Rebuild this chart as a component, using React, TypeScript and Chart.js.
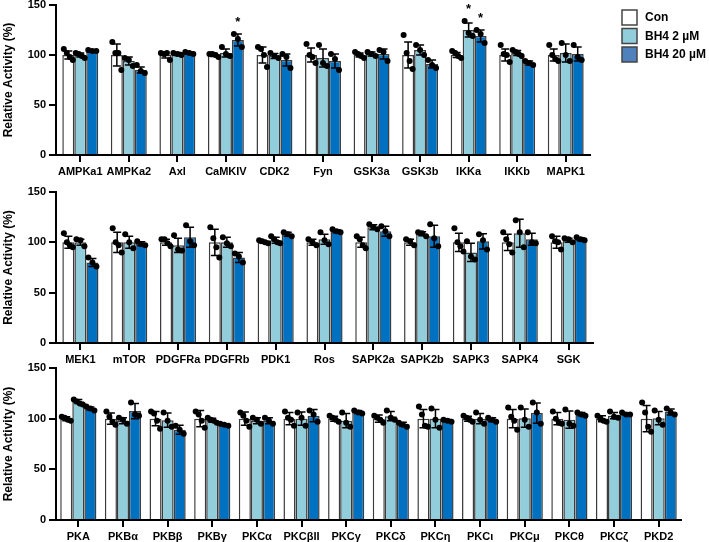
import React, { useEffect, useRef } from 'react';
import { Chart, registerables } from 'chart.js';

Chart.register(...registerables);

const FONT = "'Liberation Sans', Arial, Helvetica, sans-serif";

const seriesNames = ['Con', 'BH4 2 µM', 'BH4 20 µM'];
const barColors = ['#FFFFFF', '#92CDDC', '#0070C0'];
const legendColors = ['#FFFFFF', '#92CDDC', '#4F81BD'];
const yTicks = [0, 50, 100, 150];

// ---------- Panel 1 ----------
const cats1 = ['AMPKa1', 'AMPKa2', 'Axl', 'CaMKIV', 'CDK2', 'Fyn', 'GSK3a', 'GSK3b', 'IKKa', 'IKKb', 'MAPK1'];
const con1 = [100, 100, 100, 100, 100, 100, 100, 100, 100, 100, 100];
const low1 = [100, 94, 101, 102, 99, 97, 101, 105, 125, 102, 102];
const high1 = [104, 85, 102, 115, 95, 94, 101, 91, 119, 92, 101];
const conSd1 = [4, 11, 3, 1.5, 8, 7, 2, 13, 2.5, 6, 6];
const lowSd1 = [2, 4, 1.5, 4, 2.5, 9, 2, 5, 7, 2.5, 9];
const highSd1 = [1, 3, 1, 6, 6, 7, 5, 4, 6, 2, 7];
const conPts1 = [[106, 102, 98, 95], [113, 102, 102, 85], [102, 101, 102, 95], [101, 101, 100, 98], [108, 106, 100, 88], [111, 100, 98, 92], [103, 101, 99, 97], [120, 102, 94, 86], [104, 102, 99, 97], [110, 101, 100, 93], [110, 100, 96, 94]];
const lowPts1 = [[102, 101, 99, 97], [97, 95, 89], [102, 101, 100], [108, 101, 99], [102, 99, 97], [110, 92, 89], [103, 101, 99], [110, 105, 100], [134, 122, 119], [105, 103, 101, 99], [112, 100, 94]];
const highPts1 = [[105, 104, 104], [90, 84, 82], [103, 102, 101], [121, 116, 108], [101, 98, 87], [101, 96, 85], [105, 103, 94], [95, 90, 87], [125, 121, 112], [94, 92, 90], [110, 98, 95]];
const sig1 = [[3, 2], [8, 1], [8, 2]]; // [category index, series index]

// ---------- Panel 2 ----------
const cats2 = ['MEK1', 'mTOR', 'PDGFRa', 'PDGFRb', 'PDK1', 'Ros', 'SAPK2a', 'SAPK2b', 'SAPK3', 'SAPK4', 'SGK'];
const con2 = [100, 100, 100, 100, 100, 100, 100, 100, 100, 100, 100];
const low2 = [100, 100, 97, 100, 102, 103, 115, 108.5, 90, 109, 102];
const high2 = [80, 98.5, 105, 85, 108, 111, 111, 106, 101, 103, 103];
const conSd2 = [6, 10, 3, 13, 1, 3, 5, 3, 9, 8, 6];
const lowSd2 = [3, 6, 7, 5, 3, 5, 2.5, 2, 9, 14, 2];
const highSd2 = [4, 2, 10, 5, 2, 1.5, 5, 11, 7.5, 6, 1.5];
const conPts2 = [[109, 100, 97, 95], [114, 100, 97, 90], [103, 103, 99, 96], [115, 104, 95, 85], [102, 101, 100, 99], [103, 100, 97], [106, 103, 97, 94], [103, 101, 97], [114, 100, 96, 91], [110, 103, 98, 90], [106, 101, 100, 93]];
const lowPts2 = [[103, 102, 96], [108, 100, 94], [107, 93, 92], [105, 99, 96], [106, 103, 100, 99], [110, 102, 98], [118, 115, 113], [110, 109, 106], [101, 86, 83], [122, 110, 95], [104, 103, 100]];
const highPts2 = [[85, 80, 76], [101, 98, 97], [117, 101, 97], [89, 86, 80], [110, 108, 106], [113, 111, 110], [116, 111, 106], [118, 104, 96], [108, 102, 93], [110, 100, 99], [105, 103, 102]];
const sig2: number[][] = [];

// ---------- Panel 3 ----------
const cats3 = ['PKA', 'PKBα', 'PKBβ', 'PKBγ', 'PKCα', 'PKCβII', 'PKCγ', 'PKCδ', 'PKCη', 'PKCι', 'PKCμ', 'PKCθ', 'PKCζ', 'PKD2'];
const con3 = [100, 100, 100, 100, 100, 100, 100, 100, 100, 100, 100, 100, 100, 100];
const low3 = [117, 98, 98.5, 98.5, 98, 100, 98, 102.5, 100, 100, 100.5, 99, 103, 100.5];
const high3 = [110, 107.5, 89, 94, 98, 103, 106.5, 94.5, 98, 99, 105.5, 104.5, 104.5, 106.5];
const conSd3 = [2, 5.5, 7, 8, 6.5, 6, 2.5, 3.5, 9, 2.5, 9, 6, 3, 13];
const lowSd3 = [2, 3, 7, 2, 3, 6.5, 7, 4.5, 9, 5, 9, 8.5, 3, 6.5];
const highSd3 = [1.5, 7.5, 4.5, 1, 3, 6, 1.5, 2, 1.3, 2, 10, 1.7, 1, 3];
const conPts3 = [[102, 101, 99, 98], [107, 102, 97, 94], [107, 105, 98, 90], [107, 104, 98, 91], [106, 103, 98, 92], [107, 101, 99, 93], [103, 101, 99, 97], [103, 101, 99, 96], [112, 104, 93, 92], [103, 101, 99, 97], [111, 102, 98, 89], [107, 100, 96, 95], [103, 100, 98, 97], [116, 106, 92, 87]];
const lowPts3 = [[119, 117, 115, 114], [101, 99, 95], [106, 98, 92], [101, 99, 98, 96], [101, 99, 95], [106, 101, 93], [106, 96, 92], [108, 101, 99], [110, 99, 91], [106, 99, 95], [111, 99, 92], [109, 95, 93], [107, 102, 101], [108, 99, 94]];
const highPts3 = [[112, 110, 108], [116, 104, 103], [93, 89, 85], [95, 94, 93], [101, 98, 95], [108, 104, 97], [108, 106, 105], [96, 94, 92], [99, 98, 97], [101, 99, 97], [116, 106, 95], [106, 104, 103], [106, 104, 104], [110, 106, 104]];
const sig3: number[][] = [];

const errDotsPlugin = {
  id: 'errDots',
  afterDatasetsDraw(chart: any, _args: any, opts: any) {
    const ctx = chart.ctx;
    const ys = chart.scales.y;
    chart.data.datasets.forEach((ds: any, i: number) => {
      const meta = chart.getDatasetMeta(i);
      meta.data.forEach((bar: any, j: number) => {
        const m = ds.data[j];
        const sd = ds.sd[j];
        const pts = ds.pts[j];
        const x = bar.x;
        const yTop = ys.getPixelForValue(m + sd);
        const yBot = ys.getPixelForValue(m - sd);
        ctx.save();
        ctx.strokeStyle = '#000';
        ctx.lineWidth = 1.5;
        ctx.beginPath();
        ctx.moveTo(x, yTop);
        ctx.lineTo(x, yBot);
        ctx.moveTo(x - 4, yTop);
        ctx.lineTo(x + 4, yTop);
        ctx.moveTo(x - 4, yBot);
        ctx.lineTo(x + 4, yBot);
        ctx.stroke();
        const n = pts.length;
        const step = n > 3 ? 3 : 4;
        ctx.fillStyle = '#000';
        pts.forEach((v: number, k: number) => {
          const dx = (k - (n - 1) / 2) * step;
          ctx.beginPath();
          ctx.arc(x + dx, ys.getPixelForValue(v), 3, 0, Math.PI * 2);
          ctx.fill();
        });
        ctx.restore();
      });
    });
    const sig = (opts && opts.sig) || [];
    sig.forEach(([c, s]: number[]) => {
      const ds = chart.data.datasets[s];
      const bar = chart.getDatasetMeta(s).data[c];
      const topVal = Math.max(ds.data[c] + ds.sd[c], ...ds.pts[c]);
      const yPix = ys.getPixelForValue(topVal) - 12;
      ctx.save();
      ctx.fillStyle = '#000';
      ctx.font = `bold 13px ${FONT}`;
      ctx.textAlign = 'center';
      ctx.textBaseline = 'middle';
      ctx.fillText('*', bar.x, yPix);
      ctx.restore();
    });
  },
};

const legendPlugin = {
  id: 'sideLegend',
  afterDraw(chart: any, _args: any, opts: any) {
    if (!opts || !opts.show) return;
    const ctx = chart.ctx;
    const x0 = chart.chartArea.right + 32;
    ctx.save();
    seriesNames.forEach((name, i) => {
      const y = 10 + i * 18.5;
      ctx.fillStyle = legendColors[i];
      ctx.fillRect(x0, y, 15, 15);
      ctx.strokeStyle = '#444';
      ctx.lineWidth = 1.5;
      ctx.strokeRect(x0, y, 15, 15);
      ctx.fillStyle = '#000';
      ctx.font = `bold 12px ${FONT}`;
      ctx.textAlign = 'left';
      ctx.textBaseline = 'middle';
      ctx.fillText(name, x0 + 23, y + 8);
    });
    ctx.restore();
  },
};

type PanelProps = {
  top: number;
  height: number;
  cats: string[];
  means: number[][];
  sds: number[][];
  pts: number[][][];
  sig: number[][];
  padTop: number;
  padRight: number;
  xH: number;
  catPct: number;
  legend?: boolean;
};

function Panel(p: PanelProps) {
  const ref = useRef<HTMLCanvasElement | null>(null);
  useEffect(() => {
    const canvas = ref.current;
    if (!canvas) return;
    const chart = new Chart(canvas, {
      type: 'bar',
      data: {
        labels: p.cats,
        datasets: seriesNames.map((name, i) => ({
          label: name,
          data: p.means[i],
          sd: p.sds[i],
          pts: p.pts[i],
          backgroundColor: barColors[i],
          borderColor: '#3c3c3c',
          borderWidth: 1.5,
          barPercentage: 1,
          categoryPercentage: p.catPct,
        })) as any,
      },
      options: {
        responsive: false,
        animation: false,
        devicePixelRatio: 1,
        layout: { padding: { top: p.padTop, right: p.padRight, left: 0, bottom: 0 } },
        plugins: {
          legend: { display: false },
          tooltip: { enabled: false },
          errDots: { sig: p.sig },
          sideLegend: { show: !!p.legend },
        } as any,
        scales: {
          x: {
            type: 'category',
            grid: {
              display: true,
              drawOnChartArea: false,
              drawTicks: true,
              offset: false,
              tickLength: 7,
              lineWidth: 2,
              color: '#000',
            },
            border: { display: true, color: '#000', width: 2 },
            ticks: {
              autoSkip: false,
              maxRotation: 0,
              minRotation: 0,
              padding: 3,
              color: '#000',
              font: { family: FONT, size: 11, weight: 'bold' },
            },
            afterFit: (s: any) => {
              s.height = p.xH;
              s.paddingLeft = 0;
              s.paddingRight = 0;
            },
          },
          y: {
            type: 'linear',
            min: 0,
            max: 150,
            afterBuildTicks: (s: any) => {
              s.ticks = yTicks.map((v) => ({ value: v }));
            },
            grid: {
              display: true,
              drawOnChartArea: false,
              drawTicks: true,
              tickLength: 7,
              lineWidth: 2,
              color: '#000',
            },
            border: { display: true, color: '#000', width: 2 },
            ticks: {
              padding: 3,
              color: '#000',
              font: { family: FONT, size: 11, weight: 'bold' },
            },
            title: {
              display: true,
              text: 'Relative Activity (%)',
              color: '#000',
              font: { family: FONT, size: 12, weight: 'bold' },
              padding: { top: 1, bottom: 0 },
            },
            afterFit: (s: any) => {
              s.width = 56;
              s.paddingTop = 0;
              s.paddingBottom = 0;
            },
          },
        },
      } as any,
      plugins: [errDotsPlugin, legendPlugin],
    });
    return () => chart.destroy();
  }, []);
  return (
    <canvas
      ref={ref}
      width={709}
      height={p.height}
      style={{ position: 'absolute', left: 0, top: p.top, width: 709, height: p.height }}
    />
  );
}

export default function App() {
  return (
    <div style={{ position: 'fixed', left: 0, top: 0, width: 709, height: 542, background: '#fff', overflow: 'hidden' }}>
      <Panel
        top={0}
        height={180}
        cats={cats1}
        means={[con1, low1, high1]}
        sds={[conSd1, lowSd1, highSd1]}
        pts={[conPts1, lowPts1, highPts1]}
        sig={sig1}
        padTop={5}
        padRight={119}
        xH={25}
        catPct={0.74}
        legend
      />
      <Panel
        top={180}
        height={190}
        cats={cats2}
        means={[con2, low2, high2]}
        sds={[conSd2, lowSd2, highSd2]}
        pts={[conPts2, lowPts2, highPts2]}
        sig={sig2}
        padTop={12}
        padRight={116}
        xH={27}
        catPct={0.74}
      />
      <Panel
        top={355}
        height={187}
        cats={cats3}
        means={[con3, low3, high3]}
        sds={[conSd3, lowSd3, highSd3]}
        pts={[conPts3, lowPts3, highPts3]}
        sig={sig3}
        padTop={13}
        padRight={28}
        xH={22}
        catPct={0.81}
      />
    </div>
  );
}
